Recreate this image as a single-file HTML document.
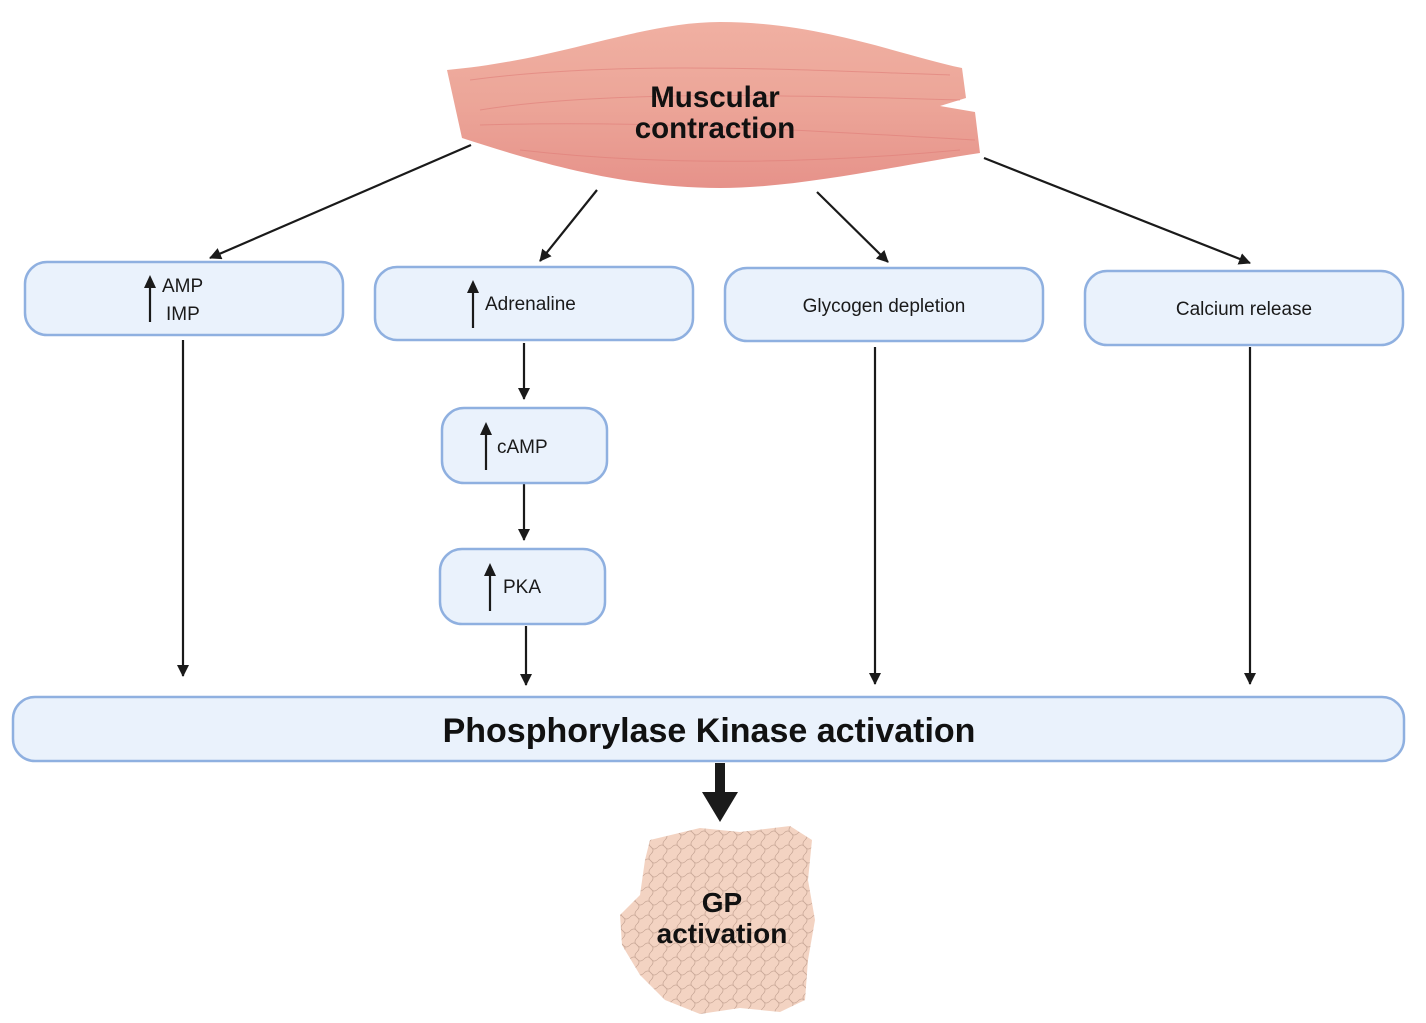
<!DOCTYPE html>
<html><head><meta charset="utf-8"><style>
html,body{margin:0;padding:0;background:#fff;}
svg{display:block;}
text{font-family:"Liberation Sans",sans-serif;}
</style></head><body>
<svg width="1426" height="1023" viewBox="0 0 1426 1023" xmlns="http://www.w3.org/2000/svg">
<defs>
<marker id="ah" markerWidth="12" markerHeight="12" refX="11" refY="6" orient="auto" markerUnits="userSpaceOnUse">
<path d="M0,0 L12,6 L0,12 z" fill="#1a1a1a"/></marker>
<linearGradient id="mg" x1="0" y1="0" x2="0" y2="1">
<stop offset="0" stop-color="#f0b0a2"/><stop offset="0.5" stop-color="#eca598"/><stop offset="1" stop-color="#e6928a"/></linearGradient>
<pattern id="gp" width="14" height="14" patternUnits="userSpaceOnUse">
<rect width="14" height="14" fill="#f3d3c2"/>
<path d="M0,7 Q4,3 7,7 T14,7 M7,0 Q3,4 7,7 T7,14" stroke="#c9a898" stroke-width="0.8" fill="none"/></pattern>
</defs>

<path d="M447,70 C560,60 640,22 720,22 C820,22 900,55 962,68 L966,98 L940,106 L975,112 L980,153 C900,165 800,188 720,188 C620,188 530,160 462,138 Z" fill="url(#mg)"/>
<path d="M480,110 C600,90 800,95 960,100 M470,80 C620,60 800,70 950,75 M480,125 C640,120 800,130 975,140 M520,150 C650,165 800,165 960,150" stroke="#e07d78" stroke-width="1" fill="none" opacity="0.6"/>
<text x="715" y="107" font-size="29.5" font-weight="bold" text-anchor="middle" fill="#111">Muscular</text>
<text x="715" y="138" font-size="29.5" font-weight="bold" text-anchor="middle" fill="#111">contraction</text>

<g stroke="#1a1a1a" stroke-width="2.2" fill="none" marker-end="url(#ah)">
<line x1="471" y1="145" x2="210" y2="258"/>
<line x1="597" y1="190" x2="540" y2="261"/>
<line x1="817" y1="192" x2="888" y2="262"/>
<line x1="984" y1="158" x2="1250" y2="263"/>
<line x1="183" y1="340" x2="183" y2="676"/>
<line x1="524" y1="343" x2="524" y2="399"/>
<line x1="524" y1="484" x2="524" y2="540"/>
<line x1="526" y1="626" x2="526" y2="685"/>
<line x1="875" y1="347" x2="875" y2="684"/>
<line x1="1250" y1="347" x2="1250" y2="684"/>
</g>

<g fill="#eaf2fc" stroke="#8fb0e0" stroke-width="2.5">
<rect x="25" y="262" width="318" height="73" rx="22"/>
<rect x="375" y="267" width="318" height="73" rx="22"/>
<rect x="725" y="268" width="318" height="73" rx="22"/>
<rect x="1085" y="271" width="318" height="74" rx="22"/>
<rect x="442" y="408" width="165" height="75" rx="22"/>
<rect x="440" y="549" width="165" height="75" rx="22"/>
<rect x="13" y="697" width="1391" height="64" rx="22"/>
</g>

<g stroke="#1a1a1a" stroke-width="2.2" fill="#1a1a1a">
<line x1="150" y1="285" x2="150" y2="322"/><path d="M144,288 L150,275 L156,288 Z" stroke="none"/>
<line x1="473" y1="290" x2="473" y2="328"/><path d="M467,293 L473,280 L479,293 Z" stroke="none"/>
<line x1="486" y1="432" x2="486" y2="470"/><path d="M480,435 L486,422 L492,435 Z" stroke="none"/>
<line x1="490" y1="573" x2="490" y2="611"/><path d="M484,576 L490,563 L496,576 Z" stroke="none"/>
</g>

<g font-size="19" fill="#1a1a1a">
<text x="162" y="292">AMP</text>
<text x="166" y="320">IMP</text>
<text x="485" y="310">Adrenaline</text>
<text x="884" y="312" text-anchor="middle">Glycogen depletion</text>
<text x="1244" y="315" text-anchor="middle">Calcium release</text>
<text x="497" y="453">cAMP</text>
<text x="503" y="593">PKA</text>
</g>
<text x="709" y="742" font-size="34" font-weight="bold" text-anchor="middle" fill="#111">Phosphorylase Kinase activation</text>

<rect x="715" y="763" width="10" height="30" fill="#1a1a1a"/>
<path d="M702,792 L738,792 L720,822 Z" fill="#1a1a1a"/>

<path d="M650,840 L700,828 L740,832 L790,826 L812,840 L808,880 L815,920 L808,960 L805,1000 L780,1012 L740,1008 L700,1014 L665,1000 L640,975 L622,945 L620,915 L640,895 L645,860 Z" fill="url(#gp)"/>
<text x="722" y="912" font-size="28" font-weight="bold" text-anchor="middle" fill="#111">GP</text>
<text x="722" y="943" font-size="28" font-weight="bold" text-anchor="middle" fill="#111">activation</text>
</svg>
</body></html>
